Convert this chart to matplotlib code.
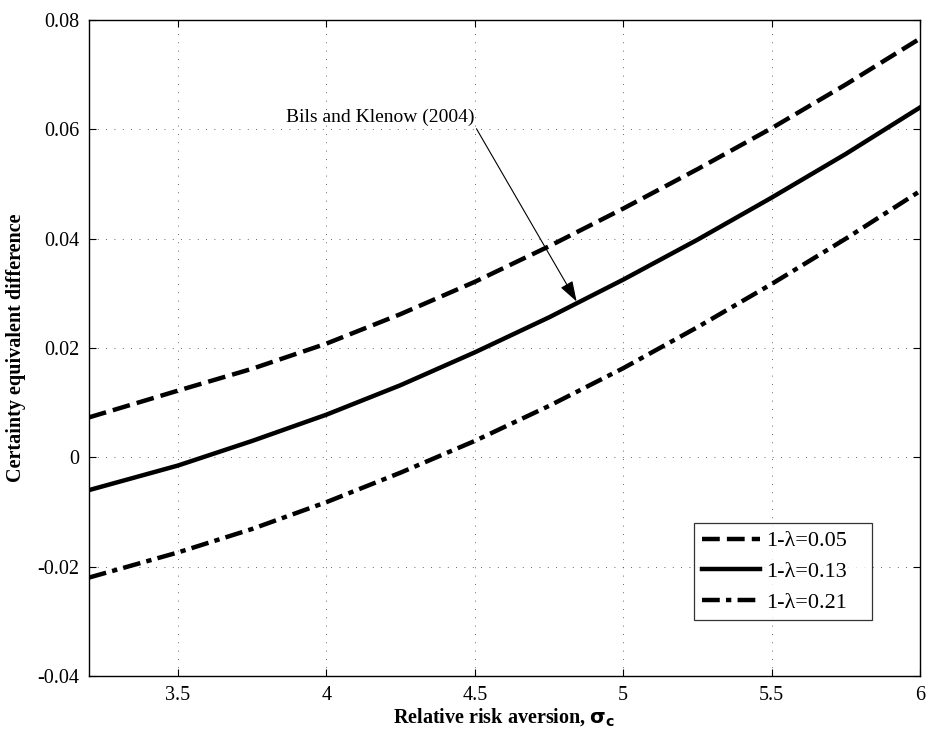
import matplotlib
matplotlib.use("Agg")
import matplotlib.pyplot as plt

# values
sigma = [3.2, 3.5, 3.75, 4.0, 4.25, 4.5, 4.75, 5.0, 5.25, 5.5, 5.75, 6.0]
ce_005 = [0.0073, 0.0122, 0.0162, 0.0208, 0.0262, 0.0321, 0.0386, 0.0455, 0.0527, 0.0602, 0.0682, 0.0766]
ce_013 = [-0.0060, -0.0015, 0.0030, 0.0078, 0.0132, 0.0192, 0.0256, 0.0325, 0.0398, 0.0475, 0.0555, 0.0640]
ce_021 = [-0.0220, -0.0174, -0.0131, -0.0082, -0.0028, 0.0030, 0.0094, 0.0163, 0.0238, 0.0317, 0.0400, 0.0487]
labels = ["1-λ=0.05", "1-λ=0.13", "1-λ=0.21"]
x_ticks = [3.5, 4, 4.5, 5, 5.5, 6]
y_ticks = [-0.04, -0.02, 0, 0.02, 0.04, 0.06, 0.08]
note = "Bils and Klenow (2004)"
note_point = (4.843, 0.0285)

plt.rcParams["font.family"] = ["Liberation Serif", "DejaVu Serif"]
plt.rcParams["mathtext.fontset"] = "dejavusans"

fig = plt.figure(figsize=(9.28, 7.37), dpi=100)
ax = fig.add_axes([0.0959, 0.0828, 0.8955, 0.8901])

ax.plot(sigma, ce_005, color="black", lw=3.2, dashes=(4, 1.6), label=labels[0])
ax.plot(sigma, ce_013, color="black", lw=3.2, ls="-", label=labels[1])
ax.plot(sigma, ce_021, color="black", lw=3.2, dashes=(4, 1.4, 1.2, 1.4), label=labels[2])

ax.set_xlim(3.2, 6)
ax.set_ylim(-0.04, 0.08)
ax.set_xticks(x_ticks)
ax.set_xticklabels(["3.5", "4", "4.5", "5", "5.5", "6"])
ax.set_yticks(y_ticks)
ax.set_yticklabels(["-0.04", "-0.02", "0", "0.02", "0.04", "0.06", "0.08"])
ax.tick_params(direction="in", top=True, right=True, labelsize=14.5, length=5, width=0.8, pad=7)
ax.grid(True, color="#333333", ls=(0, (1, 9)), lw=0.6)
for s in ax.spines.values():
    s.set_linewidth(1.0)

ax.set_xlabel(r"Relative risk aversion, $\mathbf{\sigma}_\mathbf{c}$", fontsize=14.5, fontweight="bold", labelpad=1)
ax.set_ylabel("Certainty equivalent difference", fontsize=14.5, fontweight="bold", labelpad=8)

ax.annotate(note, xy=note_point, xytext=(4.50, 0.0622), ha="right", va="center", fontsize=14,
            arrowprops=dict(arrowstyle="-|>,head_length=0.9,head_width=0.3", color="black", lw=0.8,
                            shrinkA=0, shrinkB=0, relpos=(1.0, 0.0)))

leg = ax.legend(loc="center", bbox_to_anchor=(0.728, 0.082, 0.214, 0.154), mode="expand",
                fontsize=16, frameon=True, fancybox=False, edgecolor="black", handlelength=2.6,
                handletextpad=0.3, borderaxespad=0, labelspacing=0.45, borderpad=0.35)
leg.get_frame().set_linewidth(0.9)

fig.savefig("out.png", dpi=100)
